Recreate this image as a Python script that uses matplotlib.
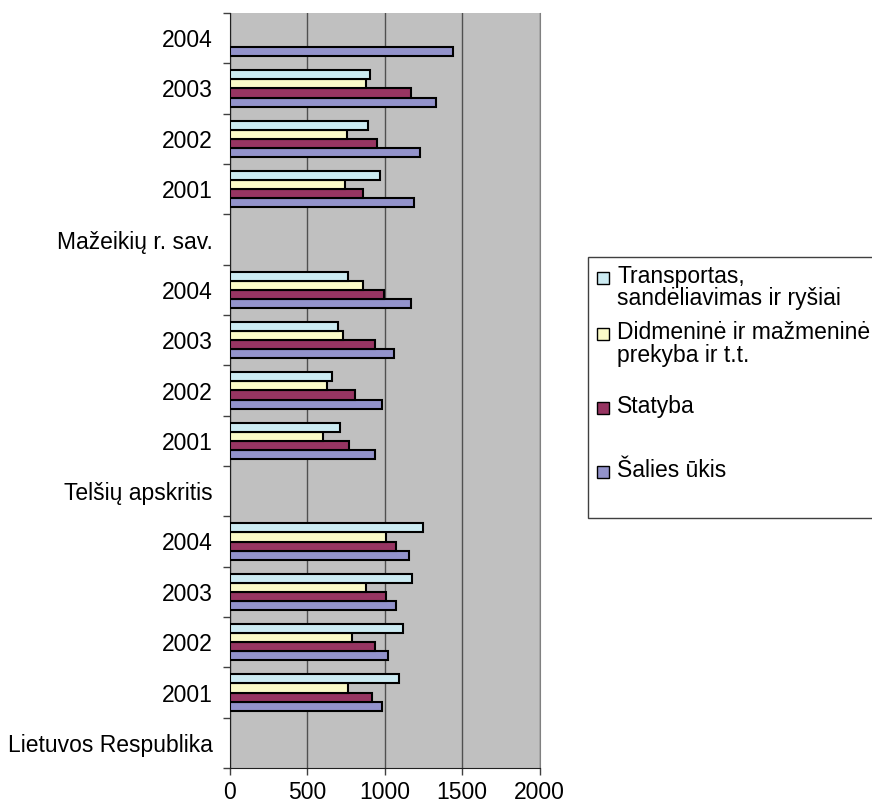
import numpy as np
import matplotlib
matplotlib.use('Agg')
import matplotlib.pyplot as plt
from matplotlib.patches import Rectangle

plt.rcParams['font.family'] = ['Liberation Sans', 'DejaVu Sans']

# Data
regions = ['Lietuvos Respublika', 'Telšių apskritis', 'Mažeikių r. sav.']
years = ['2001', '2002', '2003', '2004']

# order per region: 2001, 2002, 2003, 2004 (regions in the order above)
salies_ukis = [985, 1018, 1074, 1156, 937, 983, 1061, 1167, 1191, 1225, 1329, 1442]
statyba = [916, 937, 1007, 1074, 766, 810, 937, 996, 857, 948, 1167, np.nan]
didmenine = [764, 788, 879, 1007, 604, 626, 732, 857, 743, 753, 877, np.nan]
transportas = [1089, 1121, 1178, 1247, 708, 662, 697, 764, 972, 892, 903, np.nan]

series = [salies_ukis, statyba, didmenine, transportas]
series_names = ['Šalies ūkis', 'Statyba',
                'Didmeninė ir mažmeninė\nprekyba ir t.t.',
                'Transportas,\nsandėliavimas ir ryšiai']
colors = ['#9393CB', '#973562', '#FAFAC8', '#CCEBF2']

x_ticks = [0, 500, 1000, 1500, 2000]

# category rows: region label row, then its four years
row_labels = []
year_rows = []
for i, reg in enumerate(regions):
    row_labels.append(reg)
    for j, yr in enumerate(years):
        row_labels.append(yr)
        year_rows.append(5 * i + 1 + j)
year_rows = np.array(year_rows)

fig = plt.figure(figsize=(8.72, 8.05), dpi=100)
W, H = 872, 805
ax = fig.add_axes([230 / W, 1 - 768 / H, 309.5 / W, 755 / H])
ax.set_facecolor('#C0C0C0')

bar_h = 0.18
offsets = [-0.27, -0.09, 0.09, 0.27]
for vals, col, off in zip(series, colors, offsets):
    vals = np.array(vals, dtype=float)
    ok = ~np.isnan(vals)
    ax.barh(year_rows[ok] + off, vals[ok], height=bar_h, color=col,
            edgecolor='black', linewidth=1.5, zorder=3)

ax.set_xlim(0, 2000)
ax.set_ylim(-0.5, len(row_labels) - 0.5)

ax.set_yticks(range(len(row_labels)))
ax.set_yticklabels(row_labels)
ax.set_yticks(np.arange(-0.5, len(row_labels), 1), minor=True)
ax.tick_params(axis='y', which='major', length=0, pad=12.5, labelsize=16.5)
ax.tick_params(axis='y', which='minor', length=5, width=1, color='#404040')

ax.set_xticks(x_ticks)
ax.tick_params(axis='x', length=5, width=1, pad=4, labelsize=16.5, color='#404040')

ax.xaxis.grid(True, color='#505050', linewidth=1)
ax.set_axisbelow(True)

ax.spines['top'].set_visible(False)
ax.spines['right'].set_color('#808080')
ax.spines['left'].set_color('#202020')
ax.spines['bottom'].set_color('#202020')

# legend drawn by hand to follow the original layout
fig.patches.append(Rectangle((588 / W, 1 - 518 / H), 300 / W, 261 / H,
                             transform=fig.transFigure, facecolor='white',
                             edgecolor='#404040', linewidth=1))
legend_rows = [(3, [283, 305]), (2, [339, 362]), (1, [413]), (0, [477])]
for idx, baselines in legend_rows:
    b0 = baselines[0]
    fig.patches.append(Rectangle((597 / W, 1 - (b0 + 1) / H), 12 / W, 12 / H,
                                 transform=fig.transFigure, facecolor=colors[idx],
                                 edgecolor='black', linewidth=1))
    for line, b in zip(series_names[idx].split('\n'), baselines):
        fig.text(617 / W, 1 - b / H, line, fontsize=16.5, va='baseline', ha='left')

fig.savefig('out.png', dpi=100, facecolor='white')
